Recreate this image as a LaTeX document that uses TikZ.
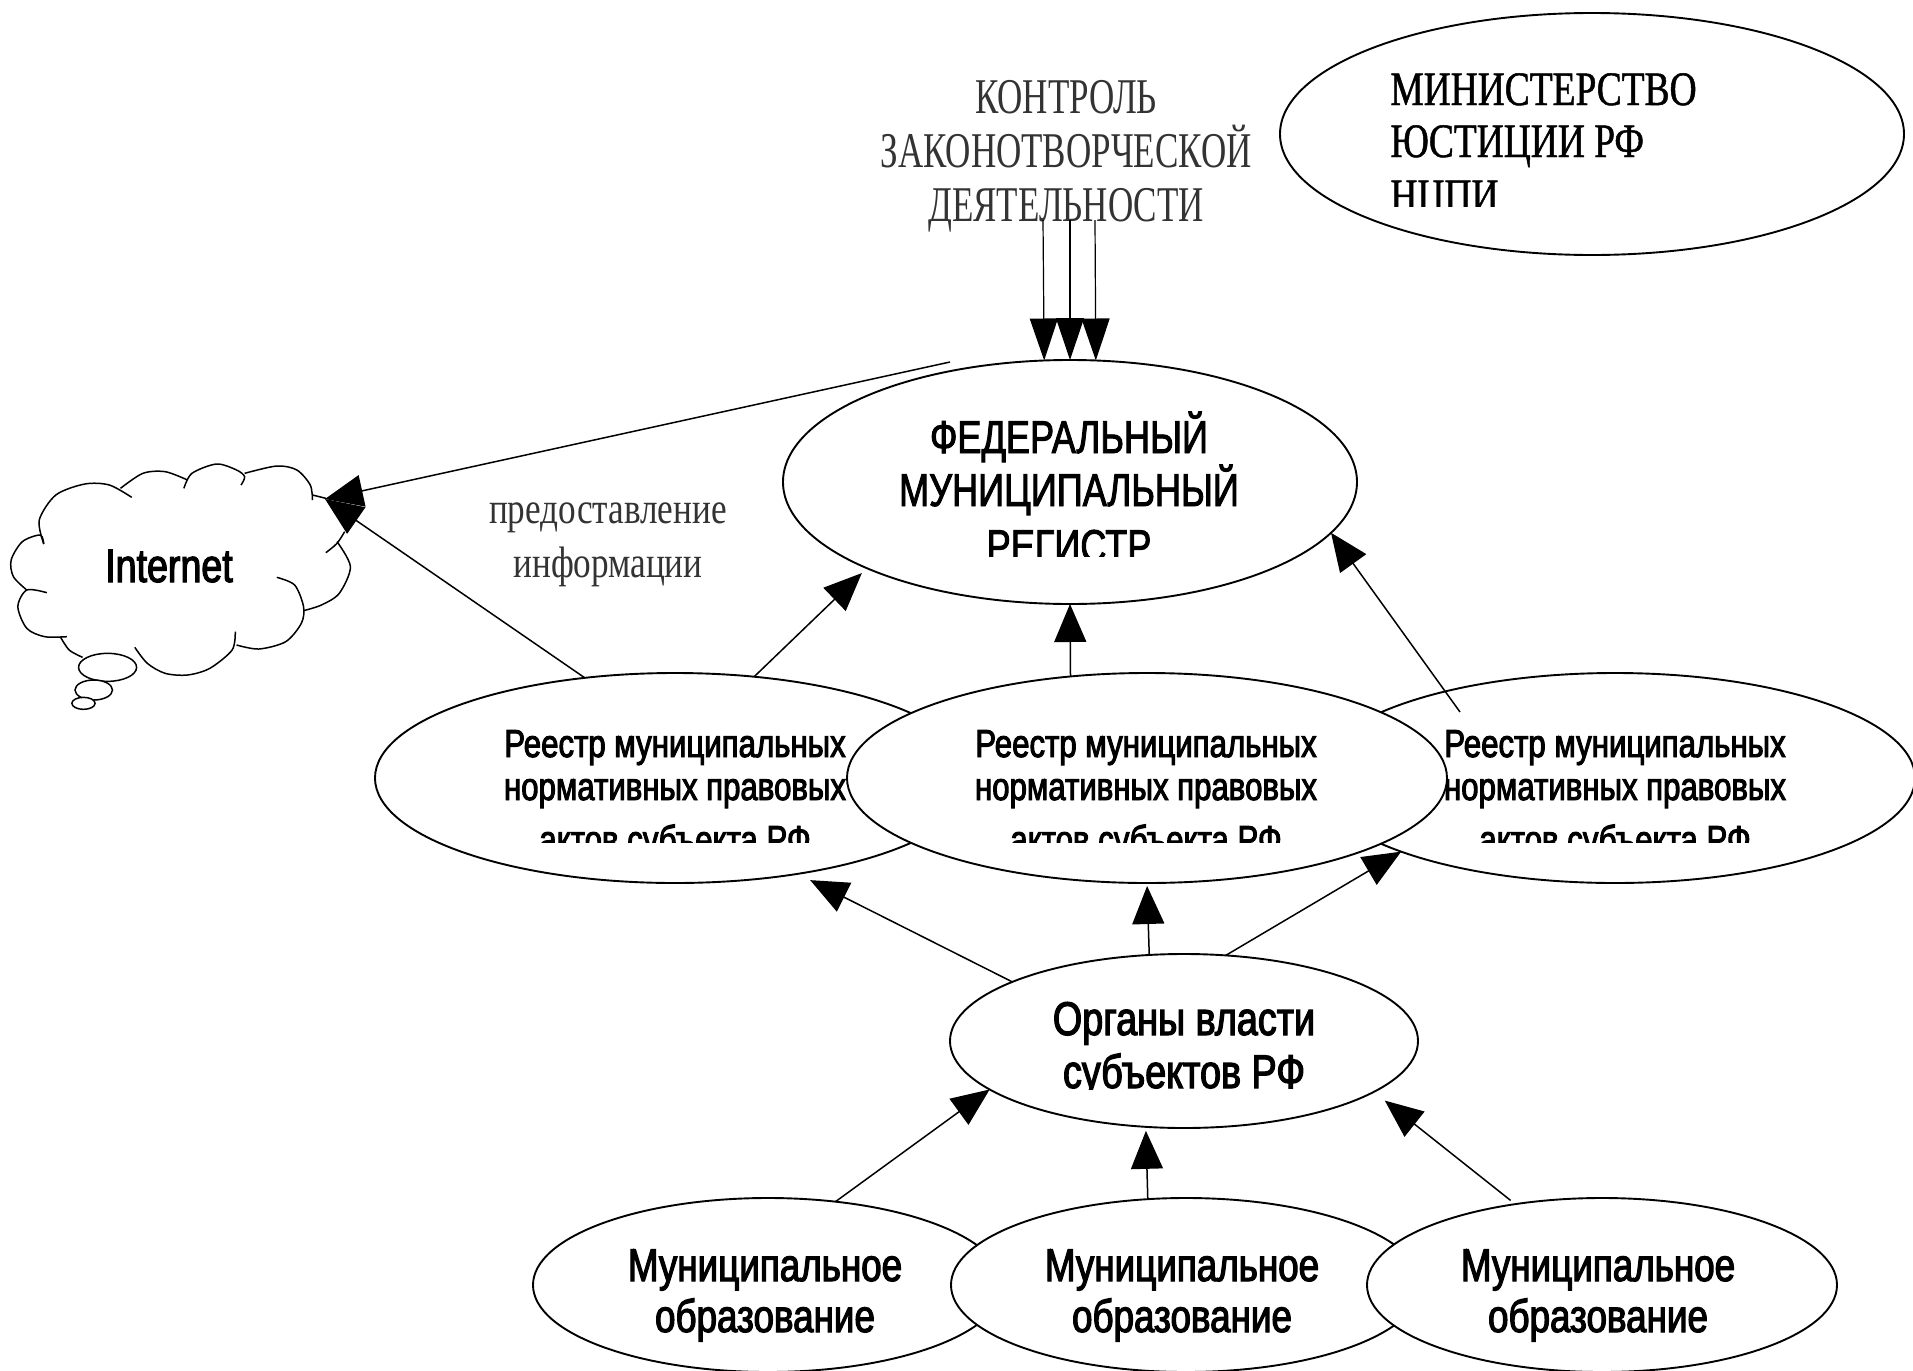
\documentclass[tikz,border=0pt]{standalone}
\usepackage{fontspec}
\usetikzlibrary{arrows.meta,shapes.geometric}
\setmainfont{Liberation Serif}
\newfontfamily\serC[FakeStretch=0.70]{Liberation Serif}
\newfontfamily\serM[FakeStretch=0.78,FakeBold=1]{Liberation Serif}
\newfontfamily\serL[FakeStretch=0.80]{Liberation Serif}
\newfontfamily\sanC[FakeStretch=0.785,FakeBold=2]{Liberation Sans}
\newfontfamily\sanB[FakeStretch=0.80,FakeBold=2.5]{Liberation Sans}
\tikzset{
  ell/.style={ellipse,draw=black,fill=white,line width=0.95pt,inner sep=0pt,outer sep=0pt},
  regell/.style={ell,minimum width=300pt,minimum height=105pt},
  munell/.style={ell,minimum width=235pt,minimum height=87pt},
  arr/.style={draw=black,line width=0.75pt,-{Triangle[length=19pt,width=16pt]}},
  tri/.style={draw=black,line width=0.6pt,-{Triangle[length=21pt,width=14pt]}},
  cloudline/.style={draw=black,line width=0.75pt},
  reglabel/.style={anchor=base,align=center,inner sep=0pt,font=\sanB\fontsize{19.5}{21.5}\selectfont},
  orglabel/.style={anchor=base,align=center,inner sep=0pt,font=\sanB\fontsize{23.6}{26.5}\selectfont},
  munlabel/.style={anchor=base,align=center,inner sep=0pt,font=\sanB\fontsize{23}{25.5}\selectfont},
  serlabel/.style={anchor=base,align=center,inner sep=0pt,text=black!80}
}
\begin{document}
\begin{tikzpicture}[x=0.5pt,y=-0.5pt]
\useasboundingbox (0,0) rectangle (1913,1371);
\fill[white] (0,0) rectangle (1913,1371);

% cloud (coordinates follow a 2.24 x 3 zoom of the region starting at y = 420)
\begin{scope}[shift={(0,420)},x=0.2232pt,y=-0.16667pt]
  \draw[cloudline] plot[smooth] coordinates {(98,372) (88,300) (125,225) (190,192) (245,195) (295,232)};
  \draw[cloudline] plot[smooth] coordinates {(270,205) (320,160) (370,155) (420,180)};
  \draw[cloudline] plot[smooth] coordinates {(412,205) (430,160) (485,132) (530,150) (548,170) (540,195)};
  \draw[cloudline] plot[smooth] coordinates {(548,160) (620,138) (665,150) (695,195) (700,240)};
  \draw[cloudline] (700,225) -- (730,235);
  \draw[cloudline] plot[smooth] coordinates {(772,335) (755,370) (730,398)};
  \draw[cloudline] plot[smooth] coordinates {(755,365) (785,440) (760,520) (720,555) (680,572)};
  \draw[cloudline] plot[smooth] coordinates {(620,472) (660,495) (680,560) (675,610) (640,665) (580,687) (530,675)};
  \draw[cloudline] plot[smooth] coordinates {(527,635) (520,690) (470,745) (420,765) (370,760) (330,730) (302,682)};
  \draw[cloudline] plot[smooth] coordinates {(105,518) (60,510) (40,560) (60,625) (100,650) (150,650)};
  \draw[cloudline] plot[smooth] coordinates {(60,510) (30,470) (25,420) (50,365) (90,345) (98,372)};
  \draw[cloudline] plot[smooth] coordinates {(135,650) (155,690) (185,712)};
  \draw[cloudline,fill=white] (241,742) ellipse [x radius=65,y radius=42];
  \draw[cloudline,fill=white] (210,810) ellipse [x radius=42,y radius=30];
  \draw[cloudline,fill=white] (187,850) ellipse [x radius=26,y radius=18];
\end{scope}
\node[anchor=base,inner sep=0pt,font=\sanB\fontsize{23.5}{26}\selectfont] (inet) at (169,582) {Internet};
\coordinate (cloudTip) at (325,499);

% ministry
\node[ell,minimum width=312pt,minimum height=121pt] (min) at (1592,134) {};
\begin{scope}
  \clip (1300,40) rectangle (1800,206);
  \node[anchor=base west,align=left,inner sep=0pt,text=black,font=\serM\fontsize{24}{26}\selectfont] (mint) at (1390,212) {МИНИСТЕРСТВО\\ЮСТИЦИИ РФ\\[1.5pt]НЦПИ};
\end{scope}

% federal register
\node[ell,minimum width=287pt,minimum height=122pt] (fed) at (1070,482) {};
\begin{scope}
  \clip (800,400) rectangle (1340,556);
  \node[anchor=base,align=center,inner sep=0pt,font=\sanC\fontsize{23}{26.5}\selectfont] (fedt) at (1069,562) {ФЕДЕРАЛЬНЫЙ\\МУНИЦИПАЛЬНЫЙ\\[1.5pt]РЕГИСТР};
\end{scope}

% regional registers
\node[regell] (regL) at (675,778) {};
\begin{scope}
  \clip (380,720) rectangle (1000,842);
  \node[reglabel] (regLt) at (675,853) {Реестр муниципальных\\нормативных правовых\\[5pt]актов субъекта РФ};
\end{scope}
\node[regell] (regR) at (1615,778) {};
\begin{scope}
  \clip (1320,720) rectangle (1913,842);
  \node[reglabel] (regRt) at (1615,853) {Реестр муниципальных\\нормативных правовых\\[5pt]актов субъекта РФ};
\end{scope}
\node[regell] (regM) at (1147,778) {};
\begin{scope}
  \clip (850,720) rectangle (1440,842);
  \node[reglabel] (regMt) at (1146,853) {Реестр муниципальных\\нормативных правовых\\[5pt]актов субъекта РФ};
\end{scope}

% regional authorities
\node[ell,minimum width=234pt,minimum height=87pt] (org) at (1184,1041) {};
\begin{scope}
  \clip (960,980) rectangle (1410,1089);
  \node[orglabel] (orgt) at (1184,1088) {Органы власти\\субъектов РФ};
\end{scope}

% municipalities
\node[munell] (munL) at (768,1285) {};
\node[munlabel] (munLt) at (765,1332) {Муниципальное\\образование};
\node[munell] (munM) at (1186,1285) {};
\node[munlabel] (munMt) at (1182,1332) {Муниципальное\\образование};
\node[munell] (munR) at (1602,1285) {};
\node[munlabel] (munRt) at (1598,1332) {Муниципальное\\образование};

% serif labels
\node[serlabel,font=\serC\fontsize{25}{27}\selectfont] (ctl) at (1066,221) {КОНТРОЛЬ\\ЗАКОНОТВОРЧЕСКОЙ\\ДЕЯТЕЛЬНОСТИ};
\node[serlabel,font=\serL\fontsize{22}{27}\selectfont] (info) at (608,577) {предоставление\\информации};

% connectors
\coordinate (t1) at (1043,220);
\coordinate (t2) at (1070,220);
\coordinate (t3) at (1095,220);
\coordinate (fedOut) at (950,362);
\coordinate (regRin) at (1460,712);
\draw[tri] (t1) -- (fed.102.5);
\draw[tri] (t2) -- (fed.north);
\draw[tri] (t3) -- (fed.78.4);
\draw[arr] (fedOut) -- (cloudTip);
\draw[arr] (regL.132) -- (cloudTip);
\draw[arr,shorten >=3.5pt] (regL.52.2) -- (fed.203);
\draw[arr] (regM.127.2) -- (fed.south);
\draw[arr] (regRin) -- (fed.-11.5);
\draw[arr,shorten >=7pt] (org.161.7) -- (regL.-38.3);
\draw[arr,shorten >=1.5pt] (org.112.7) -- (regM.south);
\draw[arr] (org.64.5) -- (regR.199);
\draw[arr] (munL.51.8) -- (org.194.5);
\draw[arr,shorten >=2pt] (munM.114.4) -- (org.246.7);
\draw[arr,shorten >=7pt,shorten <=3pt] (munR.137.9) -- (org.-15.6);
\end{tikzpicture}
\end{document}
